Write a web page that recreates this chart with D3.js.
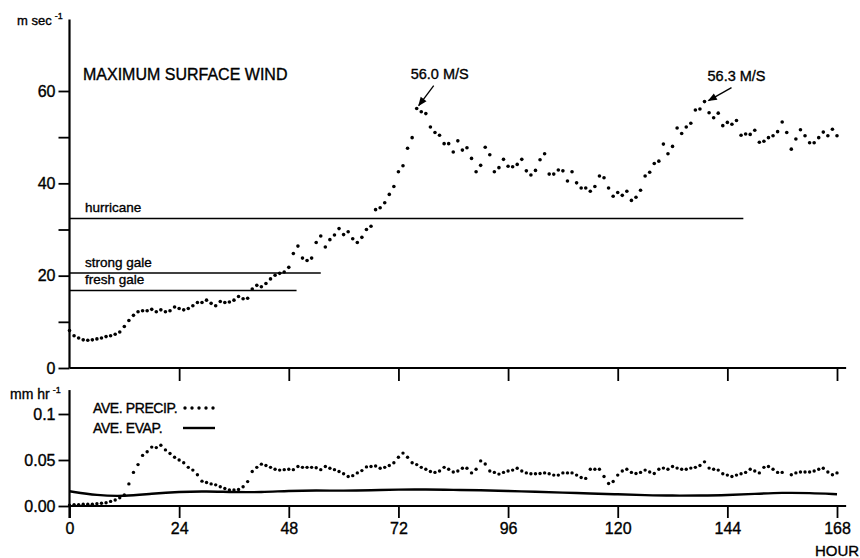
<!DOCTYPE html>
<html>
<head>
<meta charset="utf-8">
<script src="https://cdn.jsdelivr.net/npm/d3@7"></script>
<style>
body { margin: 0; background: #fff; }
svg text { font-family: "Liberation Sans", Arial, sans-serif; fill: #000; stroke: #000; stroke-width: 0.35px; }
.axis path.domain { display: none; }
.axis line { stroke: #000; stroke-width: 1.8; }
.axis text { font-size: 16px; }
</style>
</head>
<body>
<svg id="chart" width="860" height="558"></svg>
<script>

// hourly maximum surface wind (m/s), hour 0 .. 168
const windSpeed = [
  8.1, 7.0, 6.5, 6.1, 6.0, 6.1, 6.3, 6.5, 6.8, 7.0,
  7.3, 7.8, 9.0, 10.3, 11.4, 12.2, 12.4, 12.4, 12.7, 12.2,
  12.6, 12.2, 12.4, 13.2, 12.9, 12.6, 12.9, 13.5, 14.2, 14.2,
  14.7, 14.0, 13.5, 14.4, 14.2, 14.3, 14.7, 15.5, 15.0, 15.1,
  17.1, 17.9, 17.6, 18.3, 19.3, 20.1, 20.5, 20.8, 21.8, 24.8,
  26.4, 23.8, 23.3, 23.8, 27.2, 28.6, 26.2, 27.8, 28.8, 30.2,
  28.9, 29.5, 28.0, 27.2, 28.3, 30.0, 30.7, 34.3, 34.7, 35.8,
  37.6, 39.3, 42.5, 43.8, 47.6, 49.9, 56.2, 55.5, 55.1, 52.2,
  51.0, 50.4, 48.6, 48.6, 46.8, 49.2, 47.2, 47.7, 45.4, 42.5,
  43.9, 47.8, 46.2, 42.5, 43.4, 45.2, 43.7, 43.6, 44.1, 45.2,
  42.7, 41.8, 42.8, 45.1, 46.4, 42.0, 42.0, 42.9, 42.7, 40.5,
  42.5, 40.1, 39.0, 39.0, 38.3, 39.3, 41.6, 41.2, 39.0, 37.2,
  38.0, 37.4, 38.3, 36.3, 37.0, 38.5, 41.6, 42.4, 44.3, 44.8,
  48.5, 46.4, 48.0, 52.0, 50.8, 52.2, 53.0, 55.9, 56.1, 57.7,
  55.3, 54.2, 55.2, 52.5, 53.2, 52.8, 53.6, 50.4, 50.7, 50.6,
  51.5, 48.9, 49.1, 49.9, 50.3, 51.2, 53.3, 51.0, 47.4, 49.6,
  51.6, 50.3, 48.8, 48.8, 49.9, 51.1, 50.3, 51.7, 50.3
];

// hourly average precipitation (mm/hr), hour 0 .. 168 (null = no dot)
const avePrecip = [
  0.001, 0.0015, 0.0015, 0.002, 0.002, 0.002, 0.0025, 0.003, 0.0035, 0.005,
  0.0065, 0.009, 0.012, 0.024, 0.0365, 0.045, 0.055, 0.059, 0.064, 0.0635,
  0.066, 0.061, 0.057, 0.053, 0.050, 0.047, 0.042, 0.039, 0.034, 0.027,
  0.0255, 0.024, 0.023, 0.021, 0.019, 0.0175, 0.0175, 0.018, 0.021, 0.0265,
  0.0375, 0.042, 0.0455, 0.044, 0.042, 0.040, 0.039, 0.0395, 0.040, 0.0395,
  0.043, 0.042, 0.042, 0.042, 0.0415, 0.0395, 0.043, 0.041, 0.0395, 0.0375,
  0.035, 0.032, 0.033, 0.036, 0.0385, 0.0425, 0.043, 0.0435, 0.041, 0.042,
  0.044, 0.047, 0.053, 0.0575, 0.053, 0.047, 0.045, 0.042, 0.040, 0.0375,
  0.0365, 0.038, 0.042, 0.040, 0.037, 0.038, 0.041, 0.041, 0.036, 0.040,
  0.049, 0.0456, 0.038, 0.0365, 0.0347, 0.0365, 0.038, 0.039, 0.041, 0.038,
  0.036, 0.035, 0.035, 0.0354, 0.036, 0.035, 0.0336, 0.0336, 0.036, 0.036,
  0.036, 0.0336, 0.031, 0.030, 0.040, 0.040, 0.040, 0.032, 0.0245, 0.0266,
  0.0336, 0.038, 0.040, 0.0365, 0.0354, 0.0365, 0.039, 0.037, 0.0354, 0.040,
  0.0412, 0.040, 0.043, 0.0412, 0.040, 0.040, 0.0412, 0.042, 0.044, 0.048,
  0.0412, 0.040, 0.039, 0.035, 0.0336, 0.032, 0.0336, 0.035, 0.0365, 0.040,
  0.038, 0.036, 0.042, 0.043, 0.040, 0.0365, 0.0365, null, 0.034, 0.036,
  0.037, 0.037, 0.037, 0.038, 0.040, 0.041, 0.037, 0.034, 0.036
];

// average evaporation (mm/hr), every 6 hours
const evapHours = [0, 6, 12, 18, 24, 30, 36, 42, 48, 54, 60, 66, 72, 78, 84,
  90, 96, 102, 108, 114, 120, 126, 132, 138, 144, 150, 156, 162, 168];
const aveEvap = [0.016, 0.0115, 0.0105, 0.0135, 0.0155, 0.016, 0.015, 0.015,
  0.0165, 0.017, 0.0165, 0.017, 0.018, 0.018, 0.0175, 0.0172, 0.0163, 0.0155,
  0.0146, 0.0136, 0.0127, 0.0118, 0.0112, 0.0114, 0.0119, 0.0132, 0.0145,
  0.0142, 0.0128];

// Beaufort reference lines
const thresholdNames = ["hurricane", "strong gale", "fresh gale"];
const thresholdSpeed = [32.4, 20.6, 16.8];
const thresholdEndHour = [147.5, 55, 49.7];

// tick labels
const hourTicks = [0, 24, 48, 72, 96, 120, 144, 168];
const windTicks = [0, 10, 20, 30, 40, 50, 60];
const precipTicks = [0, 0.05, 0.1];

// peak annotations
const peakHours = [76, 139];
const peakLabels = ["56.0 M/S", "56.3 M/S"];

let svg = d3.select("#chart");

let x  = d3.scaleLinear().domain([0, 168]).range([69.5, 837]);
let yW = d3.scaleLinear().domain([0, 60]).range([368, 91]);
let yP = d3.scaleLinear().domain([0, 0.1]).range([506, 414]);

svg.append("defs").append("marker")
    .attr("id", "arrow")
    .attr("viewBox", "0 0 10 10")
    .attr("refX", 9).attr("refY", 5)
    .attr("markerWidth", 9).attr("markerHeight", 7)
    .attr("orient", "auto")
  .append("path")
    .attr("d", "M0,1 L10,5 L0,9 Z")
    .attr("fill", "#000");

// ---------- top panel: wind ----------
svg.append("g")
    .attr("class", "axis")
    .attr("transform", `translate(${x(0)},0)`)
    .call(d3.axisLeft(yW).tickValues(windTicks).tickSize(11).tickPadding(3)
          .tickFormat(d => d % 20 === 0 ? d : ""));

svg.append("g")
    .attr("class", "axis")
    .attr("transform", `translate(0,${yW(0)})`)
    .call(d3.axisBottom(x).tickValues(hourTicks.slice(1)).tickSize(13).tickFormat(""));

// axis lines drawn a bit past the scale ends, like the original
svg.append("line")
    .attr("x1", x(0)).attr("x2", x(0))
    .attr("y1", yW(75.5)).attr("y2", yW(0))
    .attr("stroke", "#000").attr("stroke-width", 2.2);
svg.append("line")
    .attr("x1", x(0)).attr("x2", x(170))
    .attr("y1", yW(0)).attr("y2", yW(0))
    .attr("stroke", "#000").attr("stroke-width", 2.2);

svg.append("text")
    .attr("x", 17).attr("y", 25)
    .style("font-size", "13px")
    .text("m sec")
  .append("tspan")
    .attr("dx", 3).attr("dy", -6)
    .style("font-size", "9px")
    .text("-1");

svg.append("text")
    .attr("x", 83).attr("y", 80)
    .style("font-size", "16px")
    .text("MAXIMUM SURFACE WIND");

// threshold lines
thresholdNames.forEach((name, i) => {
  svg.append("line")
      .attr("x1", x(0)).attr("x2", x(thresholdEndHour[i]))
      .attr("y1", yW(thresholdSpeed[i])).attr("y2", yW(thresholdSpeed[i]))
      .attr("stroke", "#000").attr("stroke-width", 1.5);
  svg.append("text")
      .attr("x", 85).attr("y", yW(thresholdSpeed[i]) - 6)
      .style("font-size", "13.5px")
      .text(name);
});

svg.append("g").selectAll("circle")
    .data(windSpeed)
    .enter().append("circle")
      .attr("cx", (d, i) => x(i))
      .attr("cy", d => yW(d))
      .attr("r", 1.8)
      .attr("fill", "#000");

// peak labels and arrows
let labelOffsets = [{tx: -6, ty: -30, ax1: 17, ay1: -23, ax2: 2, ay2: -3},
                    {tx: 3, ty: -21, ax1: 27, ay1: -14, ax2: 4, ay2: -1}];
peakHours.forEach((h, i) => {
  let px = x(h), py = yW(windSpeed[h]), o = labelOffsets[i];
  svg.append("text")
      .attr("x", px + o.tx).attr("y", py + o.ty)
      .style("font-size", "14.5px")
      .text(peakLabels[i]);
  svg.append("line")
      .attr("x1", px + o.ax1).attr("y1", py + o.ay1)
      .attr("x2", px + o.ax2).attr("y2", py + o.ay2)
      .attr("stroke", "#000").attr("stroke-width", 1.3)
      .attr("marker-end", "url(#arrow)");
});

// ---------- bottom panel: precipitation / evaporation ----------
svg.append("g")
    .attr("class", "axis")
    .attr("transform", `translate(${x(0)},0)`)
    .call(d3.axisLeft(yP).tickValues(precipTicks).tickSize(11).tickPadding(3)
          .tickFormat(d => d === 0.1 ? "0.1" : d3.format(".2f")(d)));

svg.append("g")
    .attr("class", "axis")
    .attr("transform", `translate(0,${yP(0)})`)
    .call(d3.axisBottom(x).tickValues(hourTicks).tickSize(12).tickPadding(5));

svg.append("line")
    .attr("x1", x(0)).attr("x2", x(0))
    .attr("y1", yP(0.126)).attr("y2", yP(0) + 12)
    .attr("stroke", "#000").attr("stroke-width", 2.2);
svg.append("line")
    .attr("x1", x(0)).attr("x2", x(170))
    .attr("y1", yP(0)).attr("y2", yP(0))
    .attr("stroke", "#000").attr("stroke-width", 2.2);

svg.append("text")
    .attr("x", 10).attr("y", 399)
    .style("font-size", "14px")
    .text("mm hr")
  .append("tspan")
    .attr("dx", 3).attr("dy", -6)
    .style("font-size", "9px")
    .text("-1");

svg.append("text")
    .attr("x", x(168)).attr("y", 556)
    .attr("text-anchor", "middle")
    .style("font-size", "15px")
    .text("HOUR");

svg.append("path")
    .datum(aveEvap)
    .attr("fill", "none")
    .attr("stroke", "#000")
    .attr("stroke-width", 2.4)
    .attr("d", d3.line()
        .x((d, i) => x(evapHours[i]))
        .y(d => yP(d))
        .curve(d3.curveBasis));

svg.append("g").selectAll("circle")
    .data(avePrecip.map((v, i) => ({h: i, v: v})).filter(d => d.v !== null))
    .enter().append("circle")
      .attr("cx", d => x(d.h))
      .attr("cy", d => yP(d.v))
      .attr("r", 1.7)
      .attr("fill", "#000");

// legend
svg.append("text")
    .attr("x", 93).attr("y", 413)
    .style("font-size", "14px")
    .style("letter-spacing", "-0.4px")
    .text("AVE. PRECIP.");
svg.append("g").selectAll("circle")
    .data([0, 1, 2, 3, 4])
    .enter().append("circle")
      .attr("cx", d => 185 + d * 7)
      .attr("cy", 408)
      .attr("r", 1.7)
      .attr("fill", "#000");

svg.append("text")
    .attr("x", 93).attr("y", 433)
    .style("font-size", "14px")
    .style("letter-spacing", "-0.4px")
    .text("AVE. EVAP.");
svg.append("line")
    .attr("x1", 183).attr("x2", 215)
    .attr("y1", 428).attr("y2", 428)
    .attr("stroke", "#000").attr("stroke-width", 2.4);

</script>
</body>
</html>
